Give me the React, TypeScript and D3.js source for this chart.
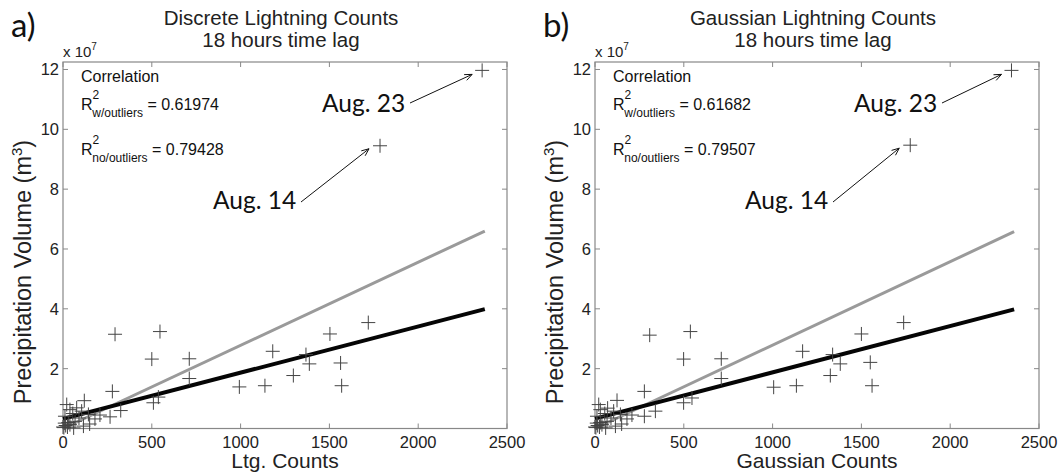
import React from "react";
import * as d3 from "d3";

// ---------- data ----------
const xTicks = [0, 500, 1000, 1500, 2000, 2500];
const yTicks = [2, 4, 6, 8, 10, 12];
const xDomain = [0, 2500];
const yDomain = [0, 12.25];

// Discrete lightning counts vs precipitation volume (x 1e7 m^3)
const discreteCounts = [
  546, 500, 711, 711, 509, 537, 993, 1137, 1181, 1297, 1368, 1387, 1503, 1563, 1569, 1719,
  293, 278, 120, 21, 39, 77, 105, 143, 11, 68, 115, 0, 39, 180, 208, 265, 325, 55, 90, 30,
  150, 5, 15, 25, 10, 60, 1785, 2360,
];
const discreteVolume = [
  3.24, 2.32, 2.33, 1.67, 0.86, 1.05, 1.39, 1.43, 2.58, 1.77, 2.47, 2.16, 3.16, 2.19, 1.43, 3.54,
  3.15, 1.24, 0.93, 0.8, 0.63, 0.69, 0.58, 0.47, 0.41, 0.24, 0.08, 0.05, 0.13, 0.32, 0.45, 0.39,
  0.6, 0.5, 0.35, 0.2, 0.15, 0.03, 0.1, 0.05, 0.18, 0.02, 9.45, 11.97,
];

// Gaussian lightning counts vs precipitation volume (x 1e7 m^3)
const gaussianCounts = [
  537, 499, 711, 711, 499, 546, 1006, 1134, 1169, 1325, 1338, 1381, 1500, 1550, 1560, 1738,
  308, 278, 124, 21, 30, 71, 105, 143, 11, 68, 115, 0, 39, 180, 208, 278, 340, 55, 90, 30,
  150, 5, 15, 25, 10, 60, 1775, 2345,
];
const gaussianVolume = [
  3.24, 2.32, 2.33, 1.67, 0.86, 1.02, 1.38, 1.43, 2.58, 1.77, 2.47, 2.16, 3.16, 2.21, 1.43, 3.54,
  3.12, 1.24, 0.94, 0.8, 0.63, 0.68, 0.58, 0.47, 0.41, 0.24, 0.08, 0.05, 0.13, 0.32, 0.45, 0.41,
  0.58, 0.5, 0.35, 0.2, 0.15, 0.03, 0.1, 0.05, 0.18, 0.02, 9.47, 11.97,
];

// regression lines: [x0, x1], [y0, y1]
const discreteFitX = [0, 2375];
const discreteFitWithOutliers = [0.0, 6.6];
const discreteFitNoOutliers = [0.32, 3.99];
const gaussianFitX = [0, 2360];
const gaussianFitWithOutliers = [0.0, 6.58];
const gaussianFitNoOutliers = [0.33, 3.98];

const r2Discrete = ["0.61974", "0.79428"];
const r2Gaussian = ["0.61682", "0.79507"];

const outlierLabels = ["Aug. 14", "Aug. 23"];

// ---------- layout ----------
const W = 1063;
const H = 476;
const SANS = "'Liberation Sans', Arial, sans-serif";
const CAL = "Lato, 'Open Sans', sans-serif";

type PanelProps = {
  ox: number;
  letter: string;
  title: string;
  xlabel: string;
  xs: number[];
  ys: number[];
  fitX: number[];
  fitGray: number[];
  fitBlack: number[];
  r2: string[];
};

function Arrow({ x1, y1, x2, y2 }: { x1: number; y1: number; x2: number; y2: number }) {
  const a = Math.atan2(y2 - y1, x2 - x1);
  const L = 8;
  const s = 0.4;
  const p1 = [x2 - L * Math.cos(a - s), y2 - L * Math.sin(a - s)];
  const p2 = [x2 - L * Math.cos(a + s), y2 - L * Math.sin(a + s)];
  return (
    <g stroke="#111" strokeWidth={1} fill="none">
      <line x1={x1} y1={y1} x2={x2} y2={y2} />
      <polyline points={`${p1[0]},${p1[1]} ${x2},${y2} ${p2[0]},${p2[1]}`} />
    </g>
  );
}

function Panel(p: PanelProps) {
  const left = p.ox + 63;
  const right = p.ox + 507;
  const top = 62;
  const bottom = 428.5;
  const x = d3.scaleLinear().domain(xDomain).range([left, right]);
  const y = d3.scaleLinear().domain(yDomain).range([bottom, top]);
  const tick = 5;
  const line = d3
    .line<[number, number]>()
    .x((d) => x(d[0]))
    .y((d) => y(d[1]));
  const grayPts: [number, number][] = [
    [p.fitX[0], p.fitGray[0]],
    [p.fitX[1], p.fitGray[1]],
  ];
  const blackPts: [number, number][] = [
    [p.fitX[0], p.fitBlack[0]],
    [p.fitX[1], p.fitBlack[1]],
  ];
  const n = p.xs.length;
  const aug14 = [x(p.xs[n - 2]), y(p.ys[n - 2])];
  const aug23 = [x(p.xs[n - 1]), y(p.ys[n - 1])];
  const cx = (left + right) / 2;
  const ms = 7;
  return (
    <g>
      <text x={p.ox + 11} y={37} fontFamily={CAL} fontSize={33} fill="#111">
        {p.letter}
      </text>
      <text x={cx - 4} y={25} textAnchor="middle" fontFamily={SANS} fontSize={20.5} fill="#222">
        {p.title}
      </text>
      <text x={cx - 4} y={47} textAnchor="middle" fontFamily={SANS} fontSize={20.5} fill="#222">
        18 hours time lag
      </text>
      <text x={left} y={57} fontFamily={SANS} fontSize={15} fill="#222">
        x 10
        <tspan fontSize={10} dy={-7}>
          7
        </tspan>
      </text>
      {/* box */}
      <rect x={left} y={top} width={right - left} height={bottom - top} fill="none" stroke="#888" strokeWidth={1.2} />
      {xTicks.map((t) => (
        <g key={"xt" + t}>
          <line x1={x(t)} x2={x(t)} y1={bottom} y2={bottom - tick} stroke="#888" />
          <line x1={x(t)} x2={x(t)} y1={top} y2={top + tick} stroke="#888" />
          <text x={x(t)} y={448} textAnchor="middle" fontFamily={SANS} fontSize={16.5} fill="#222">
            {t}
          </text>
        </g>
      ))}
      {yTicks.map((t) => (
        <g key={"yt" + t}>
          <line x1={left} x2={left + tick} y1={y(t)} y2={y(t)} stroke="#888" />
          <line x1={right} x2={right - tick} y1={y(t)} y2={y(t)} stroke="#888" />
          <text x={left - 4} y={y(t) + 6} textAnchor="end" fontFamily={SANS} fontSize={16.5} fill="#222">
            {t}
          </text>
        </g>
      ))}
      <text x={cx} y={468} textAnchor="middle" fontFamily={SANS} fontSize={21} fill="#222">
        {p.xlabel}
      </text>
      <text
        transform={`translate(${p.ox + 31},${272}) rotate(-90)`}
        textAnchor="middle"
        fontFamily={SANS}
        fontSize={23.5}
        fill="#222"
      >
        Precipitation Volume (m
        <tspan fontSize={15} dy={-9}>
          3
        </tspan>
        <tspan dy={9}>)</tspan>
      </text>
      {/* correlation text */}
      <text x={left + 18} y={82} fontFamily={SANS} fontSize={16} fill="#111">
        Correlation
      </text>
      <text x={left + 18} y={110} fontFamily={SANS} fontSize={16} fill="#111">
        R
        <tspan fontSize={12} dy={-11}>
          2
        </tspan>
        <tspan fontSize={12} dx={-7} dy={18}>
          w/outliers
        </tspan>
        <tspan dy={-7}> = {p.r2[0]}</tspan>
      </text>
      <text x={left + 18} y={155} fontFamily={SANS} fontSize={16} fill="#111">
        R
        <tspan fontSize={12} dy={-11}>
          2
        </tspan>
        <tspan fontSize={12} dx={-7} dy={18}>
          no/outliers
        </tspan>
        <tspan dy={-7}> = {p.r2[1]}</tspan>
      </text>
      {/* fit lines */}
      <path d={line(grayPts) || ""} stroke="#9a9a9a" strokeWidth={3} fill="none" />
      <path d={line(blackPts) || ""} stroke="#050505" strokeWidth={4} fill="none" />
      {/* points */}
      {p.xs.map((v, i) => (
        <g key={"pt" + i} stroke="#444" strokeWidth={1}>
          <line x1={x(v) - ms} x2={x(v) + ms} y1={y(p.ys[i])} y2={y(p.ys[i])} />
          <line x1={x(v)} x2={x(v)} y1={y(p.ys[i]) - ms} y2={y(p.ys[i]) + ms} />
        </g>
      ))}
      {/* annotations */}
      <text x={p.ox + 322} y={112} fontFamily={CAL} fontSize={24.5} fill="#111">
        {outlierLabels[1]}
      </text>
      <Arrow x1={p.ox + 410} y1={103} x2={aug23[0] - 10} y2={aug23[1] + 4} />
      <text x={p.ox + 213} y={209} fontFamily={CAL} fontSize={24.5} fill="#111">
        {outlierLabels[0]}
      </text>
      <Arrow x1={p.ox + 301} y1={202} x2={aug14[0] - 11} y2={aug14[1] + 3} />
    </g>
  );
}

export default function App() {
  return (
    <svg width={W} height={H} style={{ display: "block", position: "absolute", left: 0, top: 0, background: "#fff" }}>
      <rect width={W} height={H} fill="#fff" />
      <Panel
        ox={0}
        letter="a)"
        title="Discrete Lightning Counts"
        xlabel="Ltg. Counts"
        xs={discreteCounts}
        ys={discreteVolume}
        fitX={discreteFitX}
        fitGray={discreteFitWithOutliers}
        fitBlack={discreteFitNoOutliers}
        r2={r2Discrete}
      />
      <Panel
        ox={532}
        letter="b)"
        title="Gaussian Lightning Counts"
        xlabel="Gaussian Counts"
        xs={gaussianCounts}
        ys={gaussianVolume}
        fitX={gaussianFitX}
        fitGray={gaussianFitWithOutliers}
        fitBlack={gaussianFitNoOutliers}
        r2={r2Gaussian}
      />
    </svg>
  );
}
